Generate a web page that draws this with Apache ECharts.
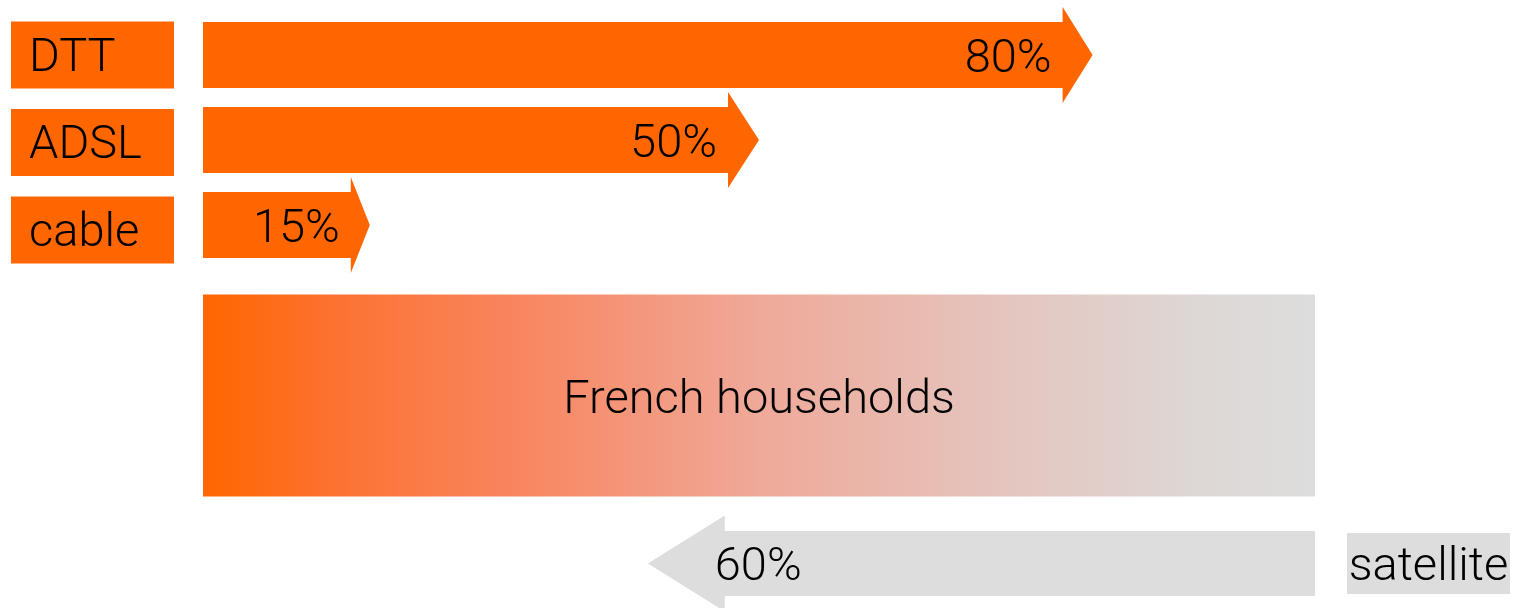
<!DOCTYPE html>
<html>
<head>
<meta charset="utf-8">
<title>TV reception in French households</title>
<script src="https://cdn.jsdelivr.net/npm/echarts@6/dist/echarts.min.js"></script>
<style>
  html, body { margin: 0; padding: 0; background: #ffffff; }
  #chart { width: 1517px; height: 608px; }
</style>
</head>
<body>
<div id="chart"></div>
<script>
// Reception channels reaching French households (share of households, %)
const channels = ['DTT', 'ADSL', 'cable'];
const channelShares = [80, 50, 15];

const householdsLabel = 'French households';
const householdsTotal = 100;

const satelliteLabel = 'satellite';
const satelliteShare = 60;

// vertical slots of the layout (blank slots are spacers)
const rows = [channels[0], channels[1], channels[2], ' ', householdsLabel, '  ', satelliteLabel];

const ORANGE = '#FF6600';
const GREY = '#DDDDDD';
const FONT = '"Helvetica Neue", Roboto, "Liberation Sans", sans-serif';
const FONT_SIZE = 47;
const FONT_WEIGHT = 300;

// arrow heads: per-row head length in px
const headLength = { DTT: 30, ADSL: 31, cable: 19, satellite: 77 };
// name tags on the left drift slightly down row by row
const tagShift = [0, 2.5, 5];

function textEl(text, x, y, align) {
  return {
    type: 'text',
    style: {
      text: text, x: x, y: y,
      align: align, verticalAlign: 'middle',
      fill: '#000000',
      fontFamily: FONT, fontSize: FONT_SIZE, fontWeight: FONT_WEIGHT
    }
  };
}

// polygon of an arrow from `fromX` to tip `tipX` centred on `cy`
function arrowPoints(fromX, tipX, cy, bodyHalf, headHalf, headLen) {
  const dir = tipX >= fromX ? 1 : -1;
  const baseX = tipX - dir * headLen;
  return [
    [fromX, cy - bodyHalf],
    [baseX, cy - bodyHalf],
    [baseX, cy - headHalf],
    [tipX, cy],
    [baseX, cy + headHalf],
    [baseX, cy + bodyHalf],
    [fromX, cy + bodyHalf]
  ];
}

const chart = echarts.init(document.getElementById('chart'), null, { renderer: 'canvas' });

chart.setOption({
  backgroundColor: '#ffffff',
  animation: false,
  grid: { left: 203, right: 202, top: 12.5, bottom: 0.5 },
  xAxis: { type: 'value', min: 0, max: householdsTotal, show: false },
  yAxis: { type: 'category', data: rows, inverse: true, show: false },
  series: [
    {
      // rightward arrows for DTT, ADSL, cable
      type: 'custom',
      data: channels.map((c, i) => [channelShares[i], c]),
      renderItem: function (params, api) {
        const i = params.dataIndex;
        const share = api.value(0);
        const name = channels[i];
        const start = api.coord([0, name]);
        const tip = api.coord([share, name]);
        const cy = start[1];
        const tagY = cy + tagShift[i];
        const hl = headLength[name];
        return {
          type: 'group',
          children: [
            { type: 'rect', shape: { x: start[0] - 192, y: tagY - 33.5, width: 163, height: 67 }, style: { fill: ORANGE } },
            textEl(name, start[0] - 174, tagY + 4, 'left'),
            { type: 'polygon', shape: { points: arrowPoints(start[0], tip[0], cy, 33, 48, hl) }, style: { fill: ORANGE } },
            textEl(share + '%', tip[0] - hl - 11, cy + 5, 'right')
          ]
        };
      }
    },
    {
      // all households
      type: 'custom',
      data: [[householdsTotal, householdsLabel]],
      renderItem: function (params, api) {
        const start = api.coord([0, householdsLabel]);
        const end = api.coord([api.value(0), householdsLabel]);
        const cy = start[1];
        return {
          type: 'group',
          children: [
            {
              type: 'rect',
              shape: { x: start[0], y: cy - 100.5, width: end[0] - start[0], height: 202 },
              style: {
                fill: new echarts.graphic.LinearGradient(0, 0, 1, 0, [
                  { offset: 0, color: '#FF6600' },
                  { offset: 0.12, color: '#FC7232' },
                  { offset: 0.28, color: '#F8855F' },
                  { offset: 0.5, color: '#EFA999' },
                  { offset: 0.72, color: '#E4C5BF' },
                  { offset: 0.9, color: '#DDD8D6' },
                  { offset: 1, color: '#DDDDDD' }
                ])
              }
            },
            textEl(householdsLabel, (start[0] + end[0]) / 2, cy + 6, 'center')
          ]
        };
      }
    },
    {
      // leftward arrow for satellite, measured from the right edge
      type: 'custom',
      data: [[householdsTotal - satelliteShare, satelliteLabel]],
      renderItem: function (params, api) {
        const from = api.coord([householdsTotal, satelliteLabel]);
        const tip = api.coord([api.value(0), satelliteLabel]);
        const cy = from[1] - 1.5;
        const hl = headLength.satellite;
        return {
          type: 'group',
          children: [
            { type: 'polygon', shape: { points: arrowPoints(from[0], tip[0], cy, 32.5, 48, hl) }, style: { fill: GREY } },
            textEl(satelliteShare + '%', tip[0] + hl - 10, cy + 5, 'left'),
            { type: 'rect', shape: { x: from[0] + 32, y: cy - 30.5, width: 163, height: 61 }, style: { fill: GREY } },
            textEl(satelliteLabel, from[0] + 113.5, cy + 5, 'center')
          ]
        };
      }
    }
  ]
});
</script>
</body>
</html>
